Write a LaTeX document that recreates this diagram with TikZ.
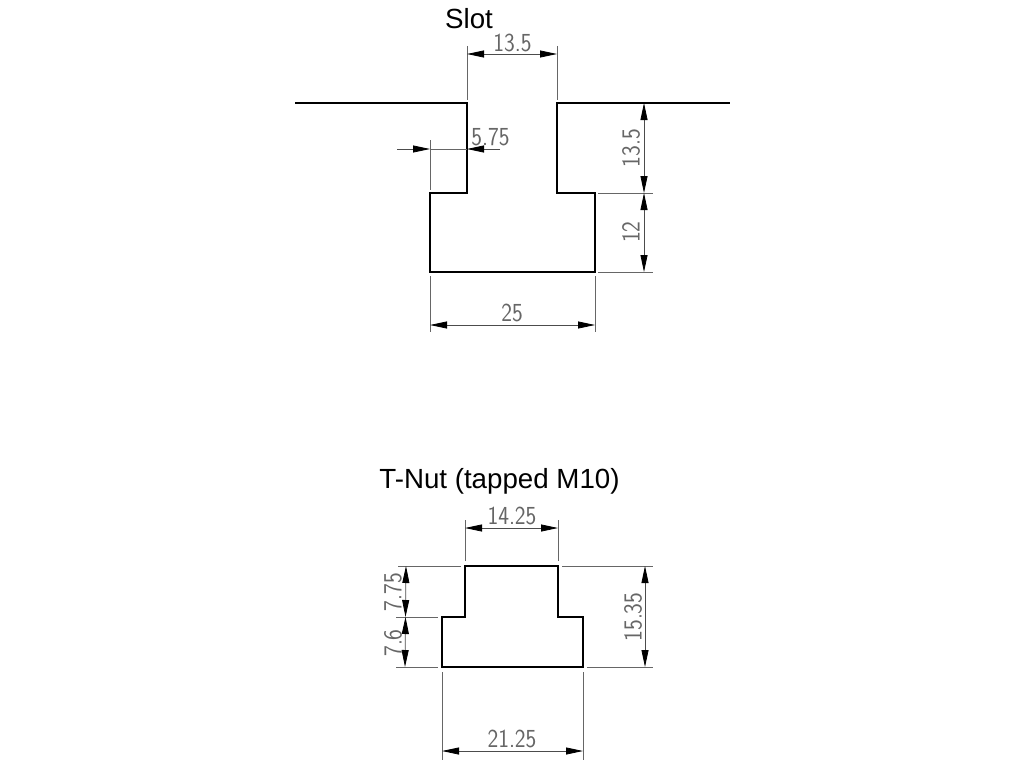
\documentclass[tikz,border=0pt]{standalone}
\usepackage{fontspec}
\setmainfont{Liberation Sans}
\usetikzlibrary{arrows.meta}
\tikzset{
	profile/.style={draw=black, line width=1.5pt, line join=miter},
	extline/.style={draw=black!60, line width=0.8pt},
	dimline/.style={draw=black!70, line width=0.8pt, {Triangle[length=17pt,width=7pt,fill=black,color=black]}-{Triangle[length=17pt,width=7pt,fill=black,color=black]}},
	leader/.style={draw=black!70, line width=0.8pt, -{Triangle[length=17pt,width=7pt,fill=black,color=black]}},
	title/.style={font=\fontsize{27.7}{28}\selectfont, inner sep=0pt},
	dimtext/.style={font=\sffamily\fontsize{26}{26}\selectfont, text=black!60, inner sep=0pt, xscale=0.88, transform shape},
}
\begin{document}
\begin{tikzpicture}[x=1pt, y=-1pt]
	\useasboundingbox (0, 0) rectangle (1024, 768);

	\node[title] (slot) at (469, 19) {Slot};
	\node[title] (nut) at (499.5, 481.5) {T-Nut (tapped M10)};

	% slot outline
	\coordinate (s1) at (295, 103);
	\coordinate (s2) at (467, 103);
	\coordinate (s3) at (467, 193);
	\coordinate (s4) at (430, 193);
	\coordinate (s5) at (430, 272);
	\coordinate (s6) at (595, 272);
	\coordinate (s7) at (595, 193);
	\coordinate (s8) at (557, 193);
	\coordinate (s9) at (557, 103);
	\coordinate (s10) at (730, 103);
	\draw[profile] (s1) -- (s2) -- (s3) -- (s4) -- (s5) -- (s6) -- (s7) -- (s8) -- (s9) -- (s10);

	% slot, width of neck
	\coordinate (a1) at (467, 46);
	\coordinate (a2) at (467, 100);
	\coordinate (a3) at (557, 46);
	\coordinate (a4) at (557, 100);
	\coordinate (a5) at (467, 54);
	\coordinate (a6) at (557, 54);
	\draw[extline] (a1) edge (a2);
	\draw[extline] (a3) edge (a4);
	\draw[dimline] (a5) -- (a6);
	\node[dimtext] (neck) at (512.5, 43) {13.5};

	% slot, overhang
	\coordinate (b1) at (430, 140);
	\coordinate (b2) at (430, 190);
	\coordinate (b3) at (397, 149);
	\coordinate (b4) at (430, 149);
	\coordinate (b5) at (500, 149);
	\coordinate (b6) at (467, 149);
	\draw[extline] (b1) edge (b2);
	\draw[leader] (b3) -- (b4);
	\draw[leader] (b5) -- (b6);
	\draw[extline] (b4) edge (b6);
	\node[dimtext] (over) at (490.5, 137) {5.75};

	% slot, heights
	\coordinate (c1) at (598, 193);
	\coordinate (c2) at (653, 193);
	\coordinate (c3) at (598, 272);
	\coordinate (c4) at (653, 272);
	\coordinate (c5) at (644, 103);
	\coordinate (c6) at (644, 193);
	\coordinate (c7) at (644, 272);
	\draw[extline] (c1) edge (c2);
	\draw[extline] (c3) edge (c4);
	\draw[dimline] (c5) -- (c6);
	\draw[dimline] (c6) -- (c7);
	\node[rotate=90, dimtext] (neckh) at (631, 148) {13.5};
	\node[rotate=90, dimtext] (headh) at (631, 232) {12};

	% slot, total width
	\coordinate (d1) at (430, 276);
	\coordinate (d2) at (430, 332);
	\coordinate (d3) at (595, 276);
	\coordinate (d4) at (595, 332);
	\coordinate (d5) at (430, 325);
	\coordinate (d6) at (595, 325);
	\draw[extline] (d1) edge (d2);
	\draw[extline] (d3) edge (d4);
	\draw[dimline] (d5) -- (d6);
	\node[dimtext] (width) at (512, 313) {25};

	% nut outline
	\coordinate (n1) at (465, 566);
	\coordinate (n2) at (558, 566);
	\coordinate (n3) at (558, 617);
	\coordinate (n4) at (583, 617);
	\coordinate (n5) at (583, 667);
	\coordinate (n6) at (442, 667);
	\coordinate (n7) at (442, 617);
	\coordinate (n8) at (465, 617);
	\draw[profile] (n1) -- (n2) -- (n3) -- (n4) -- (n5) -- (n6) -- (n7) -- (n8) -- cycle;

	% nut, top width
	\coordinate (e1) at (465, 520);
	\coordinate (e2) at (465, 561);
	\coordinate (e3) at (558, 520);
	\coordinate (e4) at (558, 561);
	\coordinate (e5) at (465, 528);
	\coordinate (e6) at (558, 528);
	\draw[extline] (e1) edge (e2);
	\draw[extline] (e3) edge (e4);
	\draw[dimline] (e5) -- (e6);
	\node[dimtext] (topw) at (512, 516) {14.25};

	% nut, left heights
	\coordinate (f1) at (398, 566);
	\coordinate (f2) at (461, 566);
	\coordinate (f3) at (396, 617);
	\coordinate (f4) at (438, 617);
	\coordinate (f5) at (396, 667);
	\coordinate (f6) at (438, 667);
	\coordinate (f7) at (406, 566);
	\coordinate (f8) at (405.5, 617);
	\coordinate (f9) at (405, 667);
	\draw[extline] (f1) edge (f2);
	\draw[extline] (f3) edge (f4);
	\draw[extline] (f5) edge (f6);
	\draw[dimline] (f7) -- (f8);
	\draw[dimline] (f8) -- (f9);
	\node[rotate=90, dimtext] (toph) at (393, 592) {7.75};
	\node[rotate=90, dimtext] (baseh) at (393, 643) {7.6};

	% nut, total height
	\coordinate (g1) at (562, 566);
	\coordinate (g2) at (653, 566);
	\coordinate (g3) at (587, 667);
	\coordinate (g4) at (653, 667);
	\coordinate (g5) at (645, 566);
	\coordinate (g6) at (645, 667);
	\draw[extline] (g1) edge (g2);
	\draw[extline] (g3) edge (g4);
	\draw[dimline] (g5) -- (g6);
	\node[rotate=90, dimtext] (totalh) at (633, 617) {15.35};

	% nut, total width
	\coordinate (h1) at (442, 672);
	\coordinate (h2) at (442, 760);
	\coordinate (h3) at (583, 672);
	\coordinate (h4) at (583, 760);
	\coordinate (h5) at (442, 751);
	\coordinate (h6) at (583, 751);
	\draw[extline] (h1) edge (h2);
	\draw[extline] (h3) edge (h4);
	\draw[dimline] (h5) -- (h6);
	\node[dimtext] (basew) at (512, 739) {21.25};
\end{tikzpicture}
\end{document}
